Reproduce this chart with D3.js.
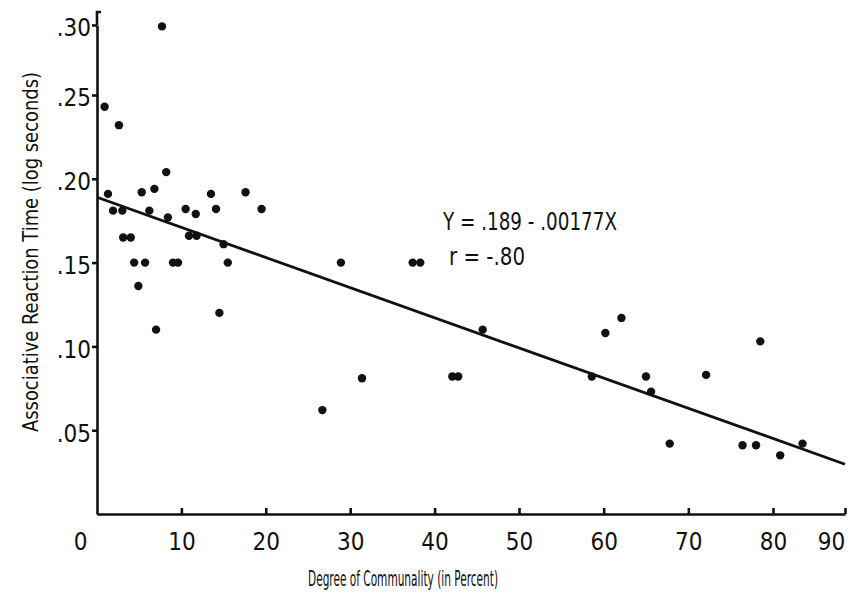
<!DOCTYPE html>
<html>
<head>
<meta charset="utf-8">
<script src="https://cdn.jsdelivr.net/npm/d3@7"></script>
<style>
  body { margin: 0; background: #fff; }
  svg { display: block; }
  .axis text { font-family: "DejaVu Sans Condensed", "DejaVu Sans", sans-serif; fill: #111; }
  .axis path, .axis line { stroke: #111; stroke-width: 2.6; }
  .lbl { font-family: "DejaVu Sans Condensed", "DejaVu Sans", sans-serif; fill: #111; }
</style>
</head>
<body>
<div id="chart"></div>
<script>
// degree of communality (percent) and reaction time (log seconds)
const commonality = [0.9, 2.6, 7.7, 8.2, 1.3, 5.3, 6.8, 13.5, 17.6, 1.9, 3.0, 6.2, 10.5, 11.7, 14.1, 19.5,
  8.4, 3.1, 4.0, 10.9, 11.8, 15.0, 4.4, 5.7, 9.0, 9.6, 15.5, 4.9, 14.5, 7.0, 28.9, 37.4, 38.3, 45.7,
  31.4, 42.1, 42.8, 26.7, 62.1, 60.2, 78.5, 58.6, 65.0, 72.1, 65.6, 67.8, 76.4, 78.0, 81.0, 84.1];
const reactionTime = [.243, .232, .299, .204, .191, .192, .194, .191, .192, .181, .181, .181, .182, .179, .182, .182,
  .177, .165, .165, .166, .166, .161, .150, .150, .150, .150, .150, .136, .120, .110, .150, .150, .150, .110,
  .081, .082, .082, .062, .117, .108, .103, .082, .082, .083, .073, .042, .041, .041, .035, .042];

const xTicks = [0, 10, 20, 30, 40, 50, 60, 70, 80, 90];
const yTicks = [.05, .10, .15, .20, .25, .30];

// regression line Y = a + bX
const intercept = 0.189;
const slope = -0.00177;
const equationText = ["Y = .189 - .00177X", "r = -.80"];

const xTitle = "Degree of Communality (in Percent)";
const yTitle = "Associative Reaction Time (log seconds)";

const width = 855, height = 605;

const svg = d3.select("#chart").append("svg")
  .attr("width", width)
  .attr("height", height);

svg.append("rect").attr("width", width).attr("height", height).attr("fill", "#fff");

// hand drawn axes are a bit uneven, polylinear scales follow them
const x = d3.scaleLinear().domain([0, 50, 80, 90]).range([97, 519, 773, 845]);
const y = d3.scaleLinear().domain([0, .25, .30]).range([514, 95, 25]);

// x axis, ticks point inward
const gx = svg.append("g")
  .attr("class", "axis")
  .attr("transform", `translate(0,${y(0)})`)
  .call(d3.axisBottom(x)
    .tickValues(xTicks)
    .tickSize(-6)
    .tickSizeOuter(0)
    .tickPadding(19)
    .tickFormat(d3.format("d")));
gx.selectAll("text")
  .attr("font-size", 24)
  .attr("dx", d => d === 0 ? -17 : d === 90 ? -14 : 0);
gx.selectAll(".tick").filter(d => d === 0).select("line").remove();

// y axis
const gy = svg.append("g")
  .attr("class", "axis")
  .attr("transform", `translate(${x(0)},0)`)
  .call(d3.axisLeft(y)
    .tickValues(yTicks)
    .tickSize(5)
    .tickSizeOuter(0)
    .tickPadding(1)
    .tickFormat(d => d3.format(".2f")(d).slice(1)));
gy.selectAll("text")
  .attr("font-size", 24)
  .attr("dy", "0.45em");

// the drawn axis runs a little past .30 and ends in a small hook
gy.append("path")
  .attr("fill", "none")
  .attr("stroke", "#111")
  .attr("stroke-width", 2.6)
  .attr("d", `M0,${y(.30)}V12h4`);

// regression line
const fit = [0, 90].map(v => [v, intercept + slope * v]);
svg.append("path")
  .datum(fit)
  .attr("fill", "none")
  .attr("stroke", "#111")
  .attr("stroke-width", 2.8)
  .attr("d", d3.line().x(d => x(d[0])).y(d => y(d[1])));

// points
svg.append("g")
  .selectAll("circle")
  .data(d3.zip(commonality, reactionTime))
  .join("circle")
    .attr("cx", d => x(d[0]))
    .attr("cy", d => y(d[1]))
    .attr("r", 4.2)
    .attr("fill", "#111");

// equation
svg.append("text")
  .attr("class", "lbl")
  .attr("x", 443).attr("y", 230)
  .attr("font-size", 24)
  .attr("textLength", 174)
  .attr("lengthAdjust", "spacingAndGlyphs")
  .text(equationText[0]);
svg.append("text")
  .attr("class", "lbl")
  .attr("x", 449).attr("y", 265)
  .attr("font-size", 24)
  .attr("textLength", 76)
  .attr("lengthAdjust", "spacingAndGlyphs")
  .text(equationText[1]);

// axis titles
svg.append("text")
  .attr("class", "lbl")
  .attr("x", 308).attr("y", 586)
  .attr("font-size", 22)
  .attr("textLength", 190)
  .attr("lengthAdjust", "spacingAndGlyphs")
  .text(xTitle);

svg.append("text")
  .attr("class", "lbl")
  .attr("transform", "translate(38,252) rotate(-90)")
  .attr("text-anchor", "middle")
  .attr("font-size", 22)
  .attr("textLength", 360)
  .attr("lengthAdjust", "spacingAndGlyphs")
  .text(yTitle);
</script>
</body>
</html>
